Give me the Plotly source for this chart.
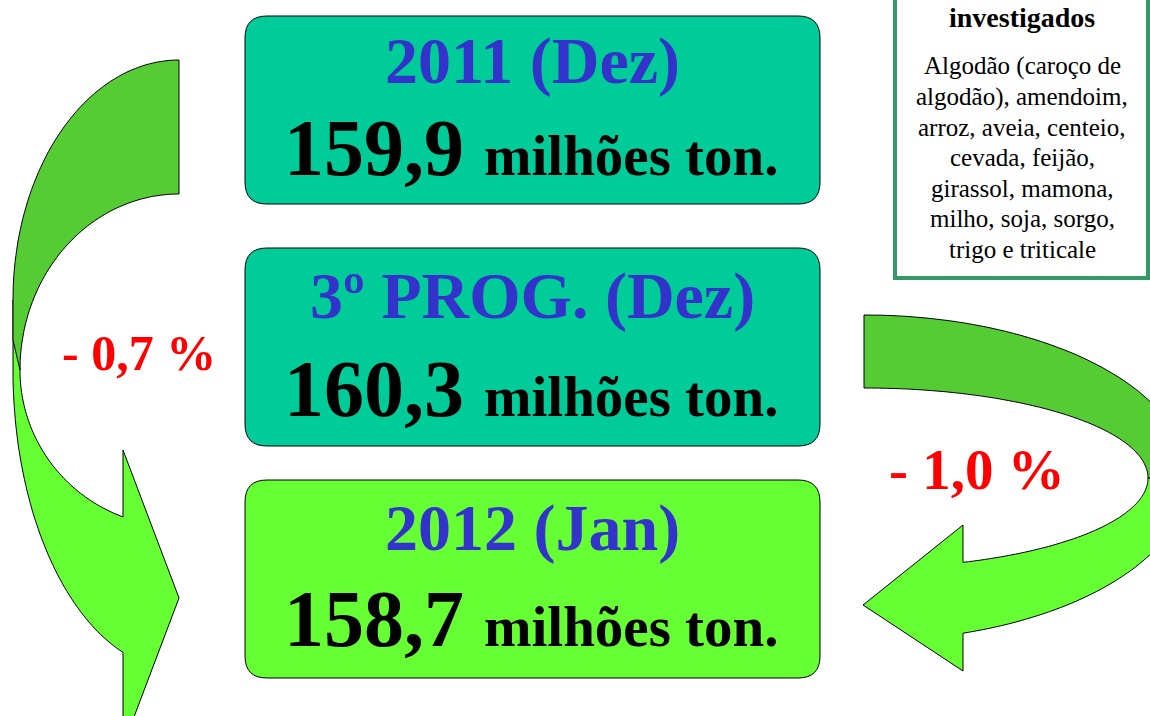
import numpy as np
import plotly.graph_objects as go

# data
periods = ["2011 (Dez)", "3º PROG. (Dez)", "2012 (Jan)"]
production = [159.9, 160.3, 158.7]
unit = "milhões ton."
changes = [-0.7, -1.0]
crops_title = "investigados"
crops_lines = [
    "Algodão (caroço de",
    "algodão), amendoim,",
    "arroz, aveia, centeio,",
    "cevada, feijão,",
    "girassol, mamona,",
    "milho, soja, sorgo,",
    "trigo e triticale",
]

W, H = 1150, 716
FONT = "Liberation Serif, Times New Roman, serif"
box_fill = ["#00CC99", "#00CC99", "#66FF33"]
box_top = [16, 248, 480]
box_h = [188, 198, 198]
title_y = [61, 296, 528]
value_y = [148, 389, 619]


def br(v):
    return f"{v:.1f}".replace(".", ",")


def arc(cx, cy, rx, ry, a0, a1, n=60):
    a = np.radians(np.linspace(a0, a1, n))
    return list(zip(cx + rx * np.cos(a), cy + ry * np.sin(a)))


def to_path(pts):
    s = "M {:.1f},{:.1f}".format(*pts[0])
    for x, y in pts[1:]:
        s += " L {:.1f},{:.1f}".format(x, y)
    return s + " Z"


def rounded(x0, y0, x1, y1, r):
    return (f"M {x0+r},{y0} L {x1-r},{y0} Q {x1},{y0} {x1},{y0+r} "
            f"L {x1},{y1-r} Q {x1},{y1} {x1-r},{y1} L {x0+r},{y1} "
            f"Q {x0},{y1} {x0},{y1-r} L {x0},{y0+r} Q {x0},{y0} {x0+r},{y0} Z")


shapes = []
annotations = []

# left curved arrow
la_light = ([(13, 300)] + arc(179, 370, 166, 300, 180, np.degrees(np.arccos(-56 / 166)))
            + [(123, 746), (179, 598), (123, 450)]
            + arc(179, 370, 159, 157, np.degrees(np.arccos(-56 / 159)), 180))
la_dark = (arc(179, 300, 166, 240, -90, -180) + [(13, 340)]
           + arc(179, 370, 159, 176, 180, 270))
# right curved arrow
ra_light = (arc(864, 478, 324, 163, 0, np.degrees(np.arccos(99 / 324)))
            + [(963, 671), (863, 605), (963, 525)]
            + arc(864, 478, 284, 90, np.degrees(np.arccos(99 / 284)), 0))
ra_dark = arc(864, 478, 324, 163, -90, 0) + arc(864, 478, 284, 90, 0, -90)

for pts, col in [(la_light, "#66FF33"), (la_dark, "#55CC33"),
                 (ra_light, "#66FF33"), (ra_dark, "#55CC33")]:
    shapes.append(dict(type="path", path=to_path(pts), xref="x", yref="y",
                       fillcolor=col, line=dict(color="black", width=1)))

# value boxes
for i, (p, v) in enumerate(zip(periods, production)):
    y0 = box_top[i]
    shapes.append(dict(type="path", path=rounded(245, y0, 820, y0 + box_h[i], 22),
                       xref="x", yref="y", fillcolor=box_fill[i],
                       line=dict(color="black", width=1)))
    annotations.append(dict(x=532, y=title_y[i], text=f"<b>{p}</b>", showarrow=False,
                            xref="x", yref="y", yanchor="middle",
                            font=dict(family=FONT, size=66, color="#3333CC")))
    annotations.append(dict(x=531, y=value_y[i],
                            text=f"<b>{br(v)} <span style='font-size:57px'>{unit}</span></b>",
                            showarrow=False, xref="x", yref="y", yanchor="middle",
                            font=dict(family=FONT, size=80, color="black")))

# percentage changes
for (x, y, s), c in zip([(139, 353, 50), (977, 469, 57)], changes):
    annotations.append(dict(x=x, y=y, text=f"<b>- {br(abs(c))} %</b>", showarrow=False,
                            xref="x", yref="y",
                            font=dict(family=FONT, size=s, color="#FF0000")))

# crops box
shapes.append(dict(type="rect", x0=895, x1=1148, y0=-10, y1=278, xref="x", yref="y",
                   fillcolor="white", line=dict(color="#339966", width=4)))
annotations.append(dict(x=1022, y=17, text=f"<b>{crops_title}</b>", showarrow=False,
                        xref="x", yref="y",
                        font=dict(family=FONT, size=28, color="black")))
for i, line in enumerate(crops_lines):
    annotations.append(dict(x=1022, y=66 + 30.5 * i, text=line, showarrow=False,
                            xref="x", yref="y",
                            font=dict(family=FONT, size=25, color="black")))

fig = go.Figure()
fig.update_layout(
    width=W, height=H,
    margin=dict(l=0, r=0, t=0, b=0),
    paper_bgcolor="white", plot_bgcolor="white",
    xaxis=dict(range=[0, W], visible=False, fixedrange=True),
    yaxis=dict(range=[H, 0], visible=False, fixedrange=True),
    shapes=shapes, annotations=annotations, showlegend=False,
)
fig.write_html("out.html", config={"displayModeBar": False},
               post_script="document.body.style.margin='0';")
